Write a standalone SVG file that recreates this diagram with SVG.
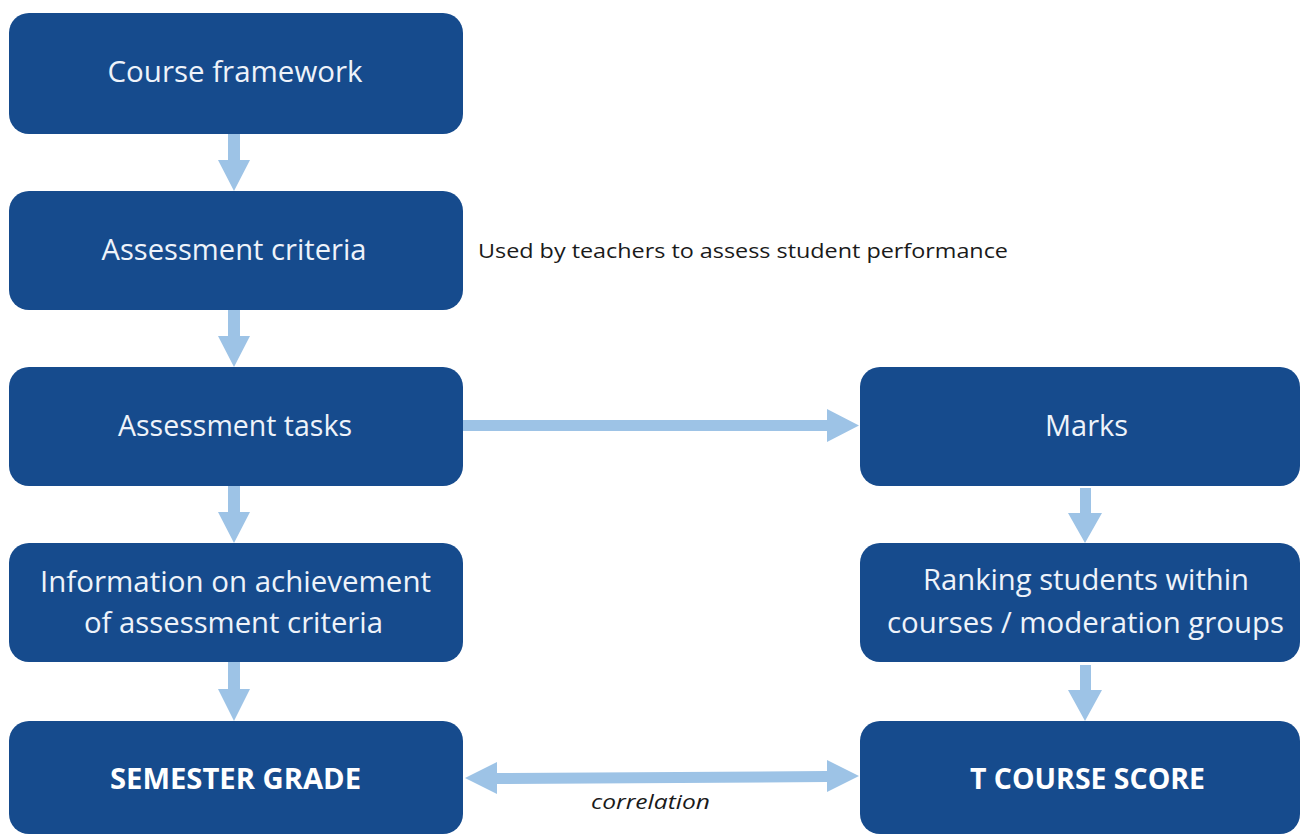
<svg xmlns="http://www.w3.org/2000/svg" width="1301" height="834" viewBox="0 0 1301 834">
<style>
.box{fill:#164B8D;}
.t{font-family:"Open Sans","Liberation Sans",sans-serif;font-size:29px;fill:#EEF3FA;text-anchor:middle;}
.b{font-family:"Open Sans","Liberation Sans",sans-serif;font-size:28px;font-weight:bold;fill:#FFFFFF;text-anchor:middle;}
.note{font-family:"Open Sans","Liberation Sans",sans-serif;font-size:20px;fill:#1A1A1A;}
.arr{fill:#9DC3E6;}
</style>
<rect width="1301" height="834" fill="#FFFFFF"/>
<g id="connectors">
<polygon class="arr" points="228,134 240,134 240,160 250,160 234,191 218,160 228,160"/>
<polygon class="arr" points="228,310 240,310 240,336 250,336 234,367 218,336 228,336"/>
<polygon class="arr" points="228,486 240,486 240,512 250,512 234,543 218,512 228,512"/>
<polygon class="arr" points="228,662 240,662 240,689 250,689 234,721 218,689 228,689"/>
<polygon class="arr" points="1080,488 1091,488 1091,513 1102,513 1085,543 1068,513 1080,513"/>
<polygon class="arr" points="1080,665 1091,665 1091,690 1102,690 1085,721 1068,690 1080,690"/>
<polygon class="arr" points="462,420 827,420 827,409 859,425.5 827,442 827,431 462,431"/>
<polygon class="arr" points="465,778 497,762 497,773 827,771 827,760 859,776 827,792 827,782 497,784 497,794"/>
<text class="note" x="591" y="809" font-style="italic" textLength="119" lengthAdjust="spacingAndGlyphs">correlation</text>
</g>
<g id="course-framework"><rect class="box" x="9" y="13" width="454" height="121" rx="20"/><text class="t" x="235" y="82" textLength="255" lengthAdjust="spacingAndGlyphs">Course framework</text></g>
<g id="assessment-criteria"><rect class="box" x="9" y="191" width="454" height="119" rx="20"/><text class="t" x="234" y="260" textLength="265" lengthAdjust="spacingAndGlyphs">Assessment criteria</text></g>
<g id="note"><text class="note" x="478" y="258" textLength="530" lengthAdjust="spacingAndGlyphs">Used by teachers to assess student performance</text></g>
<g id="assessment-tasks"><rect class="box" x="9" y="367" width="454" height="119" rx="20"/><text class="t" x="235" y="436" textLength="234" lengthAdjust="spacingAndGlyphs">Assessment tasks</text></g>
<g id="information"><rect class="box" x="9" y="543" width="454" height="119" rx="20"/><text class="t" x="235.5" y="592" textLength="391" lengthAdjust="spacingAndGlyphs">Information on achievement</text><text class="t" x="233.5" y="633" textLength="299" lengthAdjust="spacingAndGlyphs">of assessment criteria</text></g>
<g id="semester-grade"><rect class="box" x="9" y="721" width="454" height="113" rx="20"/><text class="b" x="235.5" y="789" textLength="251" lengthAdjust="spacingAndGlyphs">SEMESTER GRADE</text></g>
<g id="marks"><rect class="box" x="860" y="367" width="440" height="119" rx="20"/><text class="t" x="1086.5" y="436" textLength="83" lengthAdjust="spacingAndGlyphs">Marks</text></g>
<g id="ranking"><rect class="box" x="860" y="543" width="440" height="119" rx="20"/><text class="t" x="1086" y="590" textLength="326" lengthAdjust="spacingAndGlyphs">Ranking students within</text><text class="t" x="1085.5" y="633" textLength="397" lengthAdjust="spacingAndGlyphs">courses / moderation groups</text></g>
<g id="t-course-score"><rect class="box" x="860" y="721" width="440" height="113" rx="20"/><text class="b" x="1087.5" y="789" textLength="235" lengthAdjust="spacingAndGlyphs">T COURSE SCORE</text></g>
</svg>
